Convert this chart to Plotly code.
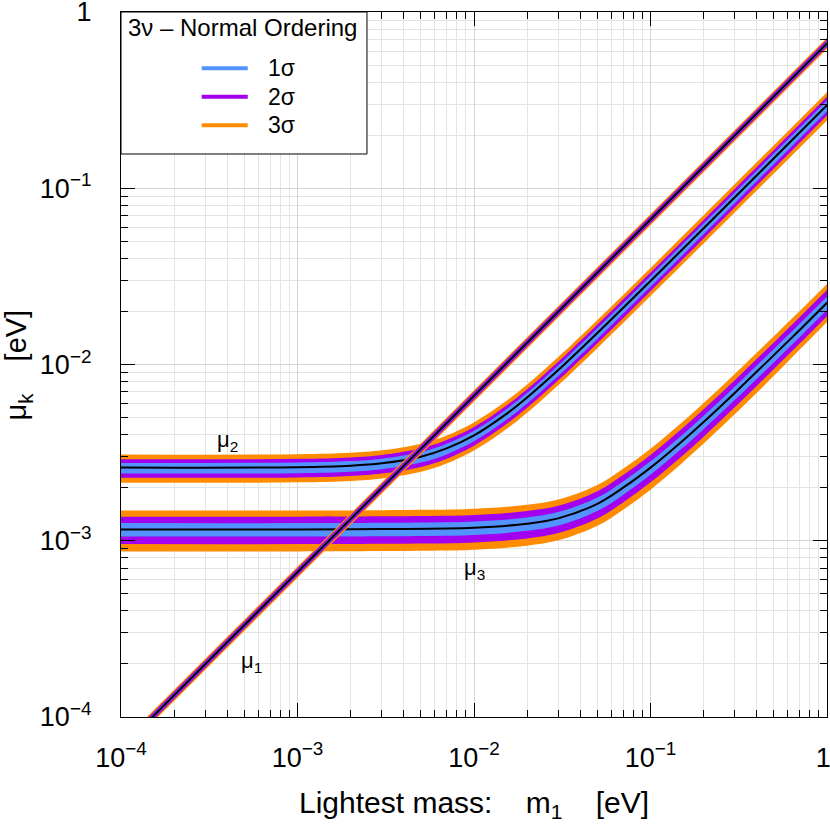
import numpy as np
import plotly.graph_objects as go

# ---------------- data ----------------
x_mu1 = [1e-4, 1.0]
mu1_best = [6.64e-5, 0.664]
mu1_1s_lo = [6.50e-5, 0.650]
mu1_1s_hi = [6.79e-5, 0.679]
mu1_2s_lo = [6.32e-5, 0.632]
mu1_2s_hi = [6.98e-5, 0.698]
mu1_3s_lo = [6.16e-5, 0.616]
mu1_3s_hi = [7.14e-5, 0.714]

x_mu2 = [1e-4, 1e-3, 2e-3, 3e-3, 5e-3, 7e-3, 1e-2, 1.5e-2, 2e-2, 3e-2, 5e-2, 0.1, 0.2, 0.5, 1.0]
mu2_best = [2.60e-3, 2.615e-3, 2.665e-3, 2.75e-3, 3.00e-3, 3.34e-3, 3.96e-3, 5.18e-3, 6.50e-3, 9.30e-3, 1.51e-2, 2.98e-2, 5.93e-2, 0.148, 0.296]
mu2_1s_lo = [2.405e-3, 2.419e-3, 2.465e-3, 2.544e-3, 2.775e-3, 3.090e-3, 3.663e-3, 4.792e-3, 6.013e-3, 8.603e-3, 1.397e-2, 2.757e-2, 5.485e-2, 0.1369, 0.2738]
mu2_1s_hi = [2.764e-3, 2.780e-3, 2.833e-3, 2.923e-3, 3.189e-3, 3.550e-3, 4.209e-3, 5.506e-3, 6.910e-3, 9.886e-3, 1.605e-2, 3.168e-2, 6.304e-2, 0.1573, 0.3146]
mu2_2s_lo = [2.275e-3, 2.288e-3, 2.332e-3, 2.406e-3, 2.625e-3, 2.923e-3, 3.465e-3, 4.533e-3, 5.688e-3, 8.138e-3, 1.321e-2, 2.608e-2, 5.189e-2, 0.1295, 0.2590]
mu2_2s_hi = [2.899e-3, 2.916e-3, 2.971e-3, 3.066e-3, 3.345e-3, 3.724e-3, 4.415e-3, 5.776e-3, 7.248e-3, 1.037e-2, 1.684e-2, 3.323e-2, 6.612e-2, 0.1650, 0.3300]
mu2_3s_lo = [2.132e-3, 2.144e-3, 2.185e-3, 2.255e-3, 2.460e-3, 2.739e-3, 3.247e-3, 4.248e-3, 5.330e-3, 7.626e-3, 1.238e-2, 2.444e-2, 4.863e-2, 0.1214, 0.2427]
mu2_3s_hi = [3.081e-3, 3.099e-3, 3.158e-3, 3.259e-3, 3.555e-3, 3.958e-3, 4.693e-3, 6.138e-3, 7.703e-3, 1.102e-2, 1.789e-2, 3.531e-2, 7.027e-2, 0.1754, 0.3508]

x_mu3 = [1e-4, 1e-3, 3e-3, 1e-2, 2e-2, 3e-2, 5e-2, 7e-2, 0.1, 0.15, 0.2, 0.3, 0.5, 0.7, 1.0]
mu3_best = [1.16e-3, 1.16e-3, 1.165e-3, 1.185e-3, 1.25e-3, 1.34e-3, 1.62e-3, 2.0e-3, 2.60e-3, 3.65e-3, 4.72e-3, 6.9e-3, 1.13e-2, 1.57e-2, 2.24e-2]
mu3_1s_lo = [1.056e-3, 1.056e-3, 1.060e-3, 1.078e-3, 1.138e-3, 1.219e-3, 1.474e-3, 1.820e-3, 2.366e-3, 3.322e-3, 4.295e-3, 6.279e-3, 1.028e-2, 1.429e-2, 2.038e-2]
mu3_1s_hi = [1.259e-3, 1.259e-3, 1.264e-3, 1.286e-3, 1.356e-3, 1.454e-3, 1.758e-3, 2.170e-3, 2.821e-3, 3.960e-3, 5.121e-3, 7.487e-3, 1.226e-2, 1.703e-2, 2.430e-2]
mu3_2s_lo = [9.57e-4, 9.57e-4, 9.61e-4, 9.78e-4, 1.031e-3, 1.106e-3, 1.337e-3, 1.650e-3, 2.145e-3, 3.011e-3, 3.894e-3, 5.720e-3, 9.42e-3, 1.315e-2, 1.880e-2]
mu3_2s_hi = [1.369e-3, 1.369e-3, 1.375e-3, 1.398e-3, 1.475e-3, 1.581e-3, 1.912e-3, 2.360e-3, 3.068e-3, 4.307e-3, 5.570e-3, 8.142e-3, 1.333e-2, 1.853e-2, 2.643e-2]
mu3_3s_lo = [8.70e-4, 8.70e-4, 8.74e-4, 8.89e-4, 9.38e-4, 1.005e-3, 1.215e-3, 1.500e-3, 1.950e-3, 2.745e-3, 3.560e-3, 5.220e-3, 8.620e-3, 1.215e-2, 1.745e-2]
mu3_3s_hi = [1.485e-3, 1.485e-3, 1.491e-3, 1.517e-3, 1.600e-3, 1.715e-3, 2.074e-3, 2.560e-3, 3.328e-3, 4.672e-3, 6.042e-3, 8.832e-3, 1.446e-2, 2.010e-2, 2.867e-2]

tick_vals = [1e-4, 1e-3, 1e-2, 1e-1, 1.0]
tick_text = ["10<sup>\u22124</sup>", "10<sup>\u22123</sup>", "10<sup>\u22122</sup>", "10<sup>\u22121</sup>", "1"]
x_tick_text = tick_text[:-1] + ["1\u00a0"]

legend_title = "3\u03bd \u2013 Normal Ordering"
legend_labels = ["1\u03c3", "2\u03c3", "3\u03c3"]
curve_labels = ["\u03bc<sub>1</sub>", "\u03bc<sub>2</sub>", "\u03bc<sub>3</sub>"]
curve_label_pos = [(5.5e-4, 2.05e-4), (4.0e-4, 3.68e-3), (1.0e-2, 6.9e-4)]

# ---------------- style ----------------
C1 = "#5393FF"   # 1 sigma
C2 = "#A200EE"   # 2 sigma
C3 = "#FF8C00"   # 3 sigma
sig_colors = [C1, C2, C3]
FONT = "Liberation Sans, Arial, sans-serif"

fig = go.Figure()

def add_band(x, lo, hi, color, shape):
    fig.add_trace(go.Scatter(x=x, y=lo, mode="lines", line=dict(width=0, color=color, shape=shape),
                             showlegend=False, hoverinfo="skip"))
    fig.add_trace(go.Scatter(x=x, y=hi, mode="lines", line=dict(width=0, color=color, shape=shape),
                             fill="tonexty", fillcolor=color, showlegend=False, hoverinfo="skip"))

curves = [
    (x_mu2, mu2_best, [(mu2_3s_lo, mu2_3s_hi), (mu2_2s_lo, mu2_2s_hi), (mu2_1s_lo, mu2_1s_hi)], "spline"),
    (x_mu3, mu3_best, [(mu3_3s_lo, mu3_3s_hi), (mu3_2s_lo, mu3_2s_hi), (mu3_1s_lo, mu3_1s_hi)], "spline"),
    (x_mu1, mu1_best, [(mu1_3s_lo, mu1_3s_hi), (mu1_2s_lo, mu1_2s_hi), (mu1_1s_lo, mu1_1s_hi)], "linear"),
]
for x, best, bands, shape in curves:
    for (lo, hi), col in zip(bands, [C3, C2, C1]):
        add_band(x, lo, hi, col, shape)
    fig.add_trace(go.Scatter(x=x, y=best, mode="lines", line=dict(width=2, color="black", shape=shape),
                             showlegend=False, hoverinfo="skip"))

minor_vals = [m * 10.0 ** e for e in range(-4, 0) for m in range(2, 10)]

axis_common = dict(
    type="log", range=[-4, 0], tickvals=tick_vals,
    ticks="inside", ticklen=14, tickwidth=1.2, tickcolor="black",
    showline=True, linecolor="black", linewidth=1.3, mirror="allticks",
    showgrid=True, gridcolor="#d4d4d4", gridwidth=1, zeroline=False,
    automargin=False, ticklabeloverflow="allow",
    tickfont=dict(family=FONT, size=27, color="black"),
    minor=dict(tickvals=minor_vals, ticks="inside", ticklen=7, tickwidth=1.2, tickcolor="black",
               showgrid=True, gridcolor="#e4e4e4", gridwidth=1),
)
fig.update_xaxes(**axis_common, ticktext=x_tick_text, ticklabelstandoff=16)
fig.update_yaxes(**axis_common, ticktext=tick_text, ticklabelstandoff=23)

annotations = []
for txt, (px, py) in zip(curve_labels, curve_label_pos):
    annotations.append(dict(x=np.log10(px), y=np.log10(py), xref="x", yref="y", text=txt,
                            showarrow=False, font=dict(family=FONT, size=22, color="black")))

# axis titles
nb = "\u00a0"
annotations.append(dict(x=0.5, y=-0.1248, xref="paper", yref="paper",
                        text="Lightest mass:" + nb * 4 + "m<sub>1</sub>" + nb * 4 + "[eV]",
                        showarrow=False, xanchor="center", yanchor="middle",
                        font=dict(family=FONT, size=30, color="black")))
annotations.append(dict(x=-0.1459, y=0.5, xref="paper", yref="paper",
                        text="\u03bc<sub>k</sub>" + nb * 4 + "[eV]", textangle=-90,
                        showarrow=False, xanchor="center", yanchor="middle",
                        font=dict(family=FONT, size=29, color="black")))

# legend (drawn as a box)
shapes = [dict(type="rect", xref="paper", yref="paper", x0=0, x1=0.3484, y0=0.7986, y1=1.0,
               line=dict(color="black", width=1), fillcolor="white", layer="above")]
annotations.append(dict(x=0.0070, y=0.9787, xref="paper", yref="paper", text=legend_title,
                        showarrow=False, xanchor="left", yanchor="middle",
                        font=dict(family=FONT, size=24, color="black")))
leg_y = [0.9201, 0.8799, 0.8393]
for lab, col, yy in zip(legend_labels, sig_colors, leg_y):
    shapes.append(dict(type="line", xref="paper", yref="paper", x0=0.1143, x1=0.1795, y0=yy, y1=yy,
                       line=dict(color=col, width=4), layer="above"))
    annotations.append(dict(x=0.2060, y=yy, xref="paper", yref="paper", text=lab,
                            showarrow=False, xanchor="left", yanchor="middle",
                            font=dict(family=FONT, size=23, color="black")))

fig.update_layout(
    width=830, height=827,
    margin=dict(l=121, r=3, t=12, b=110, autoexpand=False),
    paper_bgcolor="white", plot_bgcolor="white",
    showlegend=False,
    annotations=annotations, shapes=shapes,
)

fig.write_html("out.html", config={"displayModeBar": False},
               post_script="document.body.style.margin='0px';")
